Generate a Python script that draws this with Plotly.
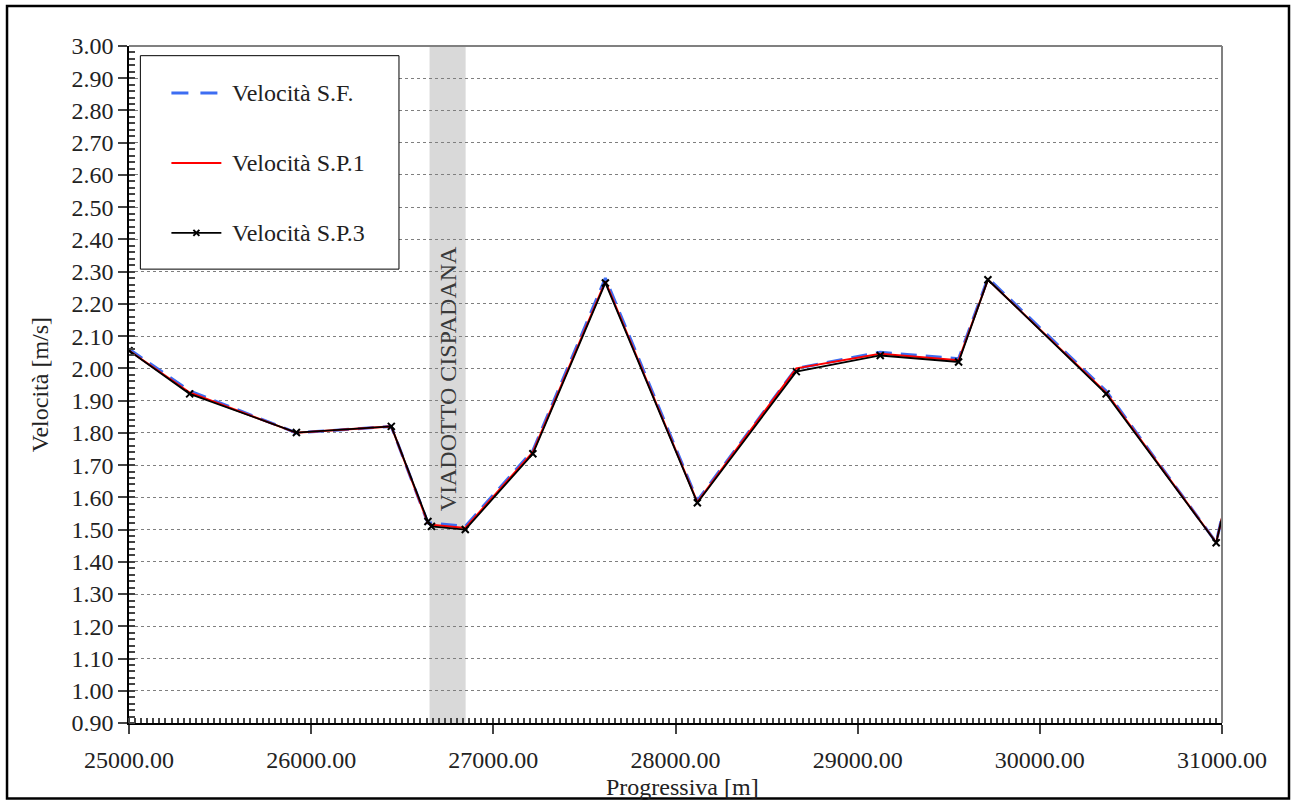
import plotly.graph_objects as go

# ---- data ----
progressiva = [25000, 25333, 25919, 26440, 26641, 26660, 26846, 27217, 27615,
               28120, 28663, 29124, 29554, 29715, 30364, 30968, 31020]
vel_sf  = [2.060, 1.930, 1.800, 1.820, 1.520, 1.520, 1.510, 1.745, 2.280,
           1.590, 2.000, 2.050, 2.030, 2.280, 1.930, 1.460, 1.590]
vel_sp1 = [2.055, 1.925, 1.800, 1.820, 1.520, 1.515, 1.505, 1.740, 2.270,
           1.585, 2.000, 2.045, 2.025, 2.275, 1.925, 1.460, 1.585]
vel_sp3 = [2.055, 1.921, 1.801, 1.820, 1.525, 1.510, 1.500, 1.735, 2.265,
           1.583, 1.990, 2.040, 2.020, 2.275, 1.921, 1.459, 1.585]

series_names = ["Velocità S.F.", "Velocità S.P.1", "Velocità S.P.3"]
y_ticks = [round(0.9 + 0.1 * i, 2) for i in range(22)]
x_ticks = [25000, 26000, 27000, 28000, 29000, 30000, 31000]
viadotto = [26650, 26848]
viadotto_label = "VIADOTTO CISPADANA"

FONT = "Liberation Serif, Times New Roman, serif"
BLUE = "#3d6df2"
RED = "#ff0000"
BLACK = "#000000"
DASH = "16px,9px"

fig = go.Figure()
fig.add_trace(go.Scatter(x=progressiva, y=vel_sf, mode="lines", name=series_names[0],
                         line=dict(color=BLUE, width=3, dash=DASH), showlegend=False))
fig.add_trace(go.Scatter(x=progressiva, y=vel_sp1, mode="lines", name=series_names[1],
                         line=dict(color=RED, width=2), showlegend=False))
fig.add_trace(go.Scatter(x=progressiva, y=vel_sp3, mode="lines+markers", name=series_names[2],
                         line=dict(color=BLACK, width=1.8),
                         marker=dict(symbol="x-thin", size=7, line=dict(color=BLACK, width=2)),
                         showlegend=False))

shapes = []
# viaduct band
shapes.append(dict(type="rect", xref="x", yref="paper", x0=viadotto[0], x1=viadotto[1],
                   y0=0, y1=1, fillcolor="#d9d9d9", line=dict(width=0), layer="below"))
# gray frame top/right
shapes.append(dict(type="line", xref="paper", yref="paper", x0=0, x1=1, y0=1, y1=1,
                   line=dict(color="#808080", width=2)))
shapes.append(dict(type="line", xref="paper", yref="paper", x0=1, x1=1, y0=0, y1=1,
                   line=dict(color="#808080", width=2)))
# outer border
shapes.append(dict(type="rect", xref="paper", yref="paper", x0=-0.1116, x1=1.0613,
                   y0=-0.1114, y1=1.0591, line=dict(color="black", width=2.5),
                   fillcolor="rgba(0,0,0,0)"))
# legend box
shapes.append(dict(type="rect", xref="paper", yref="paper", x0=0.0104, x1=0.247,
                   y0=0.6704, y1=0.9857, line=dict(color="black", width=1),
                   fillcolor="white", layer="above"))
leg_y = [0.9306, 0.8273, 0.724]
lx0, lx1, ltx = 0.0388, 0.0845, 0.0921
shapes.append(dict(type="line", xref="paper", yref="paper", x0=lx0, x1=lx1, y0=leg_y[0], y1=leg_y[0],
                   line=dict(color=BLUE, width=3, dash="17px,12px")))
shapes.append(dict(type="line", xref="paper", yref="paper", x0=lx0, x1=lx1, y0=leg_y[1], y1=leg_y[1],
                   line=dict(color=RED, width=2)))
shapes.append(dict(type="line", xref="paper", yref="paper", x0=lx0, x1=lx1, y0=leg_y[2], y1=leg_y[2],
                   line=dict(color=BLACK, width=1.8)))
cx = (lx0 + lx1) / 2
dx, dy = 3 / 1093, 3 / 677.5
shapes.append(dict(type="line", xref="paper", yref="paper", x0=cx - dx, x1=cx + dx,
                   y0=leg_y[2] - dy, y1=leg_y[2] + dy, line=dict(color=BLACK, width=2)))
shapes.append(dict(type="line", xref="paper", yref="paper", x0=cx - dx, x1=cx + dx,
                   y0=leg_y[2] + dy, y1=leg_y[2] - dy, line=dict(color=BLACK, width=2)))

annotations = []
for name, yy in zip(series_names, leg_y):
    annotations.append(dict(xref="paper", yref="paper", x=ltx, y=yy, text=name, showarrow=False,
                            xanchor="left", yanchor="middle",
                            font=dict(family=FONT, size=24, color="#222")))
annotations.append(dict(xref="x", yref="y", x=sum(viadotto) / 2, y=1.968, text=viadotto_label,
                        textangle=-90, showarrow=False, xanchor="center", yanchor="middle",
                        font=dict(family=FONT, size=24, color="#3a3a3a")))
annotations.append(dict(xref="paper", yref="paper", x=0.5066, y=-0.094, text="Progressiva [m]",
                        showarrow=False, xanchor="center", yanchor="middle",
                        font=dict(family=FONT, size=24, color="#222")))
annotations.append(dict(xref="paper", yref="paper", x=-0.0817, y=0.5, text="Velocità [m/s]",
                        textangle=-90, showarrow=False, xanchor="center", yanchor="middle",
                        font=dict(family=FONT, size=24, color="#222")))

fig.update_layout(
    width=1291, height=803,
    margin=dict(l=129, r=69, t=46, b=79.5, autoexpand=False),
    paper_bgcolor="white", plot_bgcolor="white",
    font=dict(family=FONT, size=24, color="#222"),
    shapes=shapes, annotations=annotations, showlegend=False,
)
fig.update_xaxes(
    range=[25000, 31000], tickvals=x_ticks, ticktext=[f"{v:.2f}" for v in x_ticks],
    showgrid=False, zeroline=False, showline=True, linecolor="black", linewidth=1.5,
    ticks="outside", ticklen=9, tickcolor="#444", tickwidth=1.5,
    ticklabelstandoff=5,
    minor=dict(ticks="inside", ticklen=5, dtick=1000 / 30, tick0=25000, tickcolor="#444", showgrid=False),
    tickfont=dict(family=FONT, size=24, color="#222"),
)
fig.update_yaxes(
    range=[0.9, 3.0], tickvals=y_ticks, ticktext=[f"{v:.2f}" for v in y_ticks],
    showgrid=True, gridcolor="#7f7f7f", griddash="dot", gridwidth=1.3,
    zeroline=False, showline=True, linecolor="black", linewidth=1.5,
    ticks="outside", ticklen=9, tickcolor="#444", tickwidth=1.5,
    minor=dict(ticks="inside", ticklen=6, dtick=0.02, tick0=0.9, tickcolor="#444", showgrid=False),
    tickfont=dict(family=FONT, size=24, color="#222"),
)

fig.write_html("out.html")
